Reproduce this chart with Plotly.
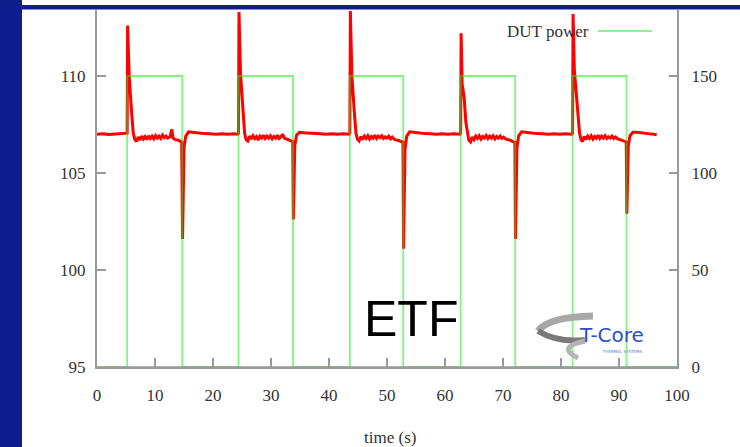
import plotly.graph_objects as go

# ---------------- data ----------------
time_s = [
    0.0, 1.0, 2.0, 3.0, 4.0, 5.0, 5.2, 5.28, 5.55, 5.95, 6.25, 6.5, 6.8, 7.1, 7.4, 7.7, 8.0, 8.3, 8.6, 8.9,
    9.2, 9.5, 9.8, 10.1, 10.4, 10.7, 11.0, 11.3, 11.6, 11.9, 12.2, 12.6, 12.9, 13.1, 13.5, 13.9, 14.3, 14.6,
    14.75, 14.85, 15.0, 15.3, 15.8, 16.5, 17.5, 18.5, 19.5, 20.5, 21.5, 22.5, 23.5, 24.3,
    24.4, 24.48, 24.75, 25.15, 25.45, 25.7, 26.0, 26.3, 26.6, 26.9, 27.2, 27.5, 27.8, 28.1, 28.4, 28.7,
    29.0, 29.3, 29.6, 29.9, 30.2, 30.5, 30.8, 31.1, 31.4, 31.7, 32.0, 32.3, 32.7, 33.1, 33.5, 33.75,
    33.85, 33.95, 34.1, 34.4, 34.9, 35.6, 36.5, 37.5, 38.5, 39.5, 40.5, 41.5, 42.5, 43.5,
    43.6, 43.68, 43.95, 44.35, 44.65, 44.9, 45.2, 45.5, 45.8, 46.1, 46.4, 46.7, 47.0, 47.3, 47.6, 47.9,
    48.2, 48.5, 48.8, 49.1, 49.4, 49.7, 50.0, 50.3, 50.6, 50.9, 51.2, 51.6, 52.0, 52.4, 52.75,
    52.85, 52.95, 53.1, 53.4, 53.9, 54.6, 55.5, 56.5, 57.5, 58.5, 59.5, 60.5, 61.5, 62.6,
    62.7, 62.78, 62.95, 63.3, 63.6, 63.85, 64.1, 64.4, 64.7, 65.0, 65.3, 65.6, 65.9, 66.2, 66.5, 66.8,
    67.1, 67.4, 67.7, 68.0, 68.3, 68.6, 68.9, 69.2, 69.5, 69.8, 70.1, 70.5, 70.9, 71.3, 71.7, 72.05,
    72.15, 72.25, 72.4, 72.7, 73.2, 73.9, 74.8, 75.8, 76.8, 77.8, 78.8, 79.8, 80.8, 81.9,
    82.0, 82.08, 82.3, 82.6, 82.95, 83.2, 83.45, 83.7, 84.0, 84.3, 84.6, 84.9, 85.2, 85.5, 85.8, 86.1,
    86.4, 86.7, 87.0, 87.3, 87.6, 87.9, 88.2, 88.5, 88.8, 89.1, 89.4, 89.8, 90.2, 90.6, 91.0, 91.25,
    91.35, 91.45, 91.6, 91.9, 92.4, 93.1, 94.0, 95.0, 96.0, 96.5,
]
temperature_c = [
    107.00, 107.02, 106.98, 107.00, 107.02, 107.03, 107.05, 112.6, 110.0, 108.2, 107.05, 106.75, 106.62, 106.85, 106.70, 106.90, 106.75, 106.88, 106.72, 106.92,
    106.78, 106.90, 106.76, 106.93, 106.80, 106.90, 106.78, 106.95, 106.82, 106.90, 106.80, 106.88, 107.25, 106.80, 106.72, 106.70, 106.62, 106.60,
    101.6, 104.5, 106.3, 106.9, 107.12, 107.10, 107.05, 107.03, 107.02, 107.00, 107.02, 107.00, 107.02, 107.00,
    107.05, 113.3, 110.1, 108.2, 107.05, 106.72, 106.65, 106.90, 106.75, 106.92, 106.78, 106.88, 106.70, 106.90, 106.80, 106.95,
    106.78, 106.90, 106.80, 106.92, 106.76, 106.88, 106.80, 106.95, 106.78, 106.85, 107.00, 106.80, 106.75, 106.72, 106.65, 106.62,
    102.6, 105.0, 106.4, 106.95, 107.10, 107.08, 107.05, 107.03, 107.02, 107.00, 107.02, 107.00, 107.02, 107.00,
    107.05, 113.35, 110.0, 108.2, 107.05, 106.75, 106.65, 106.88, 106.72, 106.90, 106.78, 106.92, 106.75, 106.88, 106.80, 106.95,
    106.78, 106.90, 106.82, 106.92, 106.78, 106.86, 106.80, 106.90, 106.76, 106.85, 106.75, 106.70, 106.68, 106.62, 106.60,
    101.1, 104.2, 106.2, 106.9, 107.12, 107.10, 107.05, 107.03, 107.02, 107.00, 107.02, 107.00, 107.02, 107.00,
    107.05, 112.2, 109.6, 108.9, 107.6, 107.00, 106.70, 106.60, 106.85, 106.72, 106.90, 106.78, 106.92, 106.75, 106.88, 106.80,
    106.93, 106.78, 106.90, 106.80, 106.92, 106.76, 106.88, 106.80, 106.90, 106.78, 106.85, 106.75, 106.72, 106.68, 106.62, 106.58,
    101.6, 104.4, 106.3, 106.92, 107.12, 107.10, 107.05, 107.03, 107.02, 107.00, 107.02, 107.00, 107.02, 107.00,
    107.05, 113.2, 110.3, 109.2, 107.8, 107.05, 106.72, 106.62, 106.88, 106.72, 106.90, 106.78, 106.92, 106.75, 106.88, 106.80,
    106.95, 106.78, 106.90, 106.80, 106.92, 106.78, 106.86, 106.80, 106.90, 106.78, 106.86, 106.75, 106.72, 106.68, 106.62, 106.60,
    102.9, 105.0, 106.4, 106.92, 107.10, 107.10, 107.05, 107.03, 107.00, 106.97,
]

power_time_s = [0.0, 5.2, 14.7, 24.4, 33.8, 43.6, 52.8, 62.7, 72.1, 82.0, 91.3, 100.0]
power_w = [0, 150, 0, 150, 0, 150, 0, 150, 0, 150, 0, 0]

x_ticks = [0, 10, 20, 30, 40, 50, 60, 70, 80, 90, 100]
y_left_ticks = [95, 100, 105, 110]
y_right_ticks = [0, 50, 100, 150]

# ---------------- layout geometry helpers (pixels -> paper) ----------------
W, H = 740, 447
L, R, T, B = 97, 63, 10, 80
PW, PH = W - L - R, H - T - B


def px(x):
    return (x - L) / PW


def py(y):
    return (H - B - y) / PH


fig = go.Figure()

fig.add_trace(go.Scatter(
    x=time_s, y=temperature_c, mode="lines", yaxis="y",
    line=dict(color="#ff0000", width=3), showlegend=False, cliponaxis=True,
))
fig.add_trace(go.Scatter(
    x=power_time_s, y=power_w, mode="lines", yaxis="y2", line_shape="hv",
    line=dict(color="#1ced1c", width=1.8), opacity=0.55, name="DUT power", showlegend=False,
))

tick_font = dict(family="Liberation Serif, Times New Roman, serif", size=17, color="#333333")
axis_gray = "#999999"

fig.update_layout(
    width=W, height=H,
    margin=dict(l=L, r=R, t=T, b=B, pad=0),
    paper_bgcolor="white", plot_bgcolor="white",
    xaxis=dict(
        range=[0, 100], tickvals=x_ticks, ticks="inside", ticklen=9, tickwidth=1.5,
        tickcolor=axis_gray, showline=True, linecolor=axis_gray, linewidth=2,
        showgrid=False, zeroline=False, tickfont=tick_font, ticklabelstandoff=12,
    ),
    yaxis=dict(
        range=[95, 95 + PH / 19.4], tickvals=y_left_ticks, ticks="inside", ticklen=9,
        tickwidth=1.5, tickcolor=axis_gray, showline=True, linecolor=axis_gray, linewidth=2,
        showgrid=False, zeroline=False, tickfont=tick_font, ticklabelstandoff=6,
    ),
    yaxis2=dict(
        range=[0, PH / 19.4 * 10], tickvals=y_right_ticks, overlaying="y", side="right",
        ticks="inside", ticklen=8, tickwidth=1.5, tickcolor=axis_gray, showline=True,
        linecolor=axis_gray, linewidth=2, showgrid=False, zeroline=False,
        tickfont=tick_font, ticklabelstandoff=9,
    ),
)

# bottom border drawn over the zero-power segments (as in the gnuplot frame)
fig.add_shape(type="line", xref="paper", yref="paper", x0=0, x1=1, y0=py(367.3), y1=py(367.3),
              line=dict(color=axis_gray, width=2.2), layer="above")

# x axis title
fig.add_annotation(text="time (s)", x=px(390), y=py(437), xref="paper", yref="paper",
                   showarrow=False, xanchor="center", yanchor="middle",
                   font=dict(family="Liberation Serif, serif", size=17, color="#333333"))

# legend entry (gnuplot style)
fig.add_annotation(text="DUT power", x=px(591), y=py(31), xref="paper", yref="paper",
                   showarrow=False, xanchor="right", yanchor="middle",
                   font=dict(family="Liberation Serif, serif", size=17, color="#333333"))
fig.add_shape(type="line", xref="paper", yref="paper", x0=px(598), x1=px(652),
              y0=py(31), y1=py(31), line=dict(color="#8cf58c", width=1.8))

# ETF label
fig.add_annotation(text="ETF", x=px(411), y=py(319), xref="paper", yref="paper",
                   showarrow=False, xanchor="center", yanchor="middle",
                   font=dict(family="Liberation Sans, Arial, sans-serif", size=50, color="#000000"))

# T-Core logo (approximation)
swirl_parts = [
    (f"M {px(593)},{py(316)} Q {px(548)},{py(317)} {px(538)},{py(331)}", "#a8a8a8", 7),
    (f"M {px(538)},{py(331)} Q {px(558)},{py(343)} {px(585)},{py(340)}", "#7a7a7a", 6),
    (f"M {px(585)},{py(341)} Q {px(556)},{py(347)} {px(578)},{py(358)}", "#b4b4b4", 5),
]
for path, col, wdt in swirl_parts:
    fig.add_shape(type="path", xref="paper", yref="paper", path=path,
                  line=dict(color=col, width=wdt))
fig.add_annotation(text="T-Core", x=px(611), y=py(335), xref="paper", yref="paper",
                   showarrow=False, xanchor="center", yanchor="middle",
                   font=dict(family="DejaVu Sans, Verdana, sans-serif", size=20, color="#2a4fc8"))
fig.add_annotation(text="THERMAL SYSTEMS", x=px(622), y=py(351), xref="paper", yref="paper",
                   showarrow=False, xanchor="center", yanchor="middle",
                   font=dict(family="DejaVu Sans, sans-serif", size=4, color="#5a78d0"))

# blue slide frame
frame_blue = "#0f1e8c"
fig.add_shape(type="rect", xref="paper", yref="paper", x0=px(0), x1=px(22), y0=py(H), y1=py(0),
              fillcolor=frame_blue, line=dict(width=0), layer="above")
fig.add_shape(type="rect", xref="paper", yref="paper", x0=px(22), x1=px(W), y0=py(9.5), y1=py(5),
              fillcolor=frame_blue, line=dict(width=0), layer="above")

fig.write_html("out.html")
